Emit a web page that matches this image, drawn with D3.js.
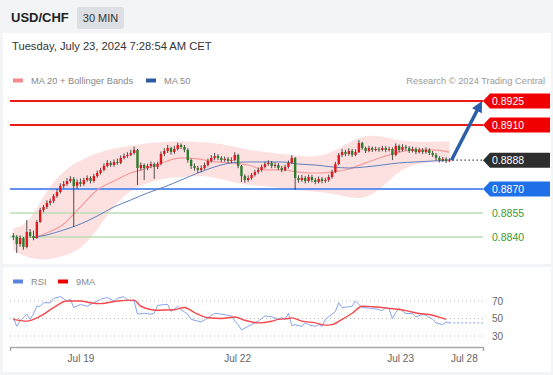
<!DOCTYPE html>
<meta charset="utf-8">
<style>
body { margin: 0; background: #fff; }
svg { display: block; font-family: "Liberation Sans", Arial, sans-serif; }
</style>
<svg width="553" height="375"></svg>
<script src="https://cdnjs.cloudflare.com/ajax/libs/d3/7.8.5/d3.min.js"></script>
<script>

var pair = "USD/CHF",
    period = "30 MIN",
    stamp = "Tuesday, July 23, 2024 7:28:54 AM CET",
    credit = "Research \u00a9 2024 Trading Central";

// 30 min candles, Jul 18 afternoon -> Jul 23 07:00
var opens = [0.88410,0.88400,0.88356,0.88394,0.88338,0.88431,0.88406,0.88394,0.88494,0.88569,
  0.88588,0.88613,0.88625,0.88656,0.88681,0.88719,0.88731,0.88750,0.88763,0.88719,
  0.88744,0.88731,0.88756,0.88769,0.88750,0.88781,0.88800,0.88819,0.88844,0.88863,
  0.88850,0.88869,0.88863,0.88894,0.88906,0.88913,0.88925,0.88944,0.88831,0.88850,
  0.88831,0.88844,0.88856,0.88838,0.88856,0.88919,0.88938,0.88956,0.88931,0.88950,
  0.88975,0.88963,0.88944,0.88881,0.88844,0.88831,0.88819,0.88831,0.88850,0.88875,
  0.88894,0.88906,0.88894,0.88881,0.88888,0.88875,0.88881,0.88913,0.88844,0.88781,
  0.88756,0.88769,0.88788,0.88806,0.88819,0.88838,0.88856,0.88863,0.88844,0.88850,
  0.88831,0.88819,0.88838,0.88863,0.88894,0.88769,0.88756,0.88769,0.88750,0.88775,
  0.88756,0.88744,0.88763,0.88750,0.88756,0.88775,0.88806,0.88856,0.88913,0.88931,
  0.88919,0.88938,0.88913,0.88931,0.88988,0.88956,0.88938,0.88956,0.88944,0.88950,
  0.88944,0.88956,0.88944,0.88950,0.88913,0.88969,0.88944,0.88963,0.88956,0.88938,
  0.88950,0.88931,0.88944,0.88931,0.88944,0.88925,0.88913,0.88894,0.88881,0.88888,
  0.88875];
var highs = [0.88425,0.88412,0.88410,0.88400,0.88506,0.88450,0.88440,0.88505,0.88582,0.88600,
  0.88630,0.88640,0.88670,0.88700,0.88735,0.88750,0.88768,0.88780,0.88775,0.88760,
  0.88765,0.88770,0.88785,0.88780,0.88795,0.88815,0.88832,0.88860,0.88880,0.88875,
  0.88885,0.88890,0.88910,0.88922,0.88930,0.88945,0.88965,0.88950,0.88866,0.88860,
  0.88858,0.88872,0.88866,0.88870,0.88935,0.88955,0.88975,0.88965,0.88970,0.88990,
  0.88985,0.88975,0.88955,0.88890,0.88860,0.88845,0.88848,0.88865,0.88890,0.88912,
  0.88925,0.88918,0.88905,0.88903,0.88900,0.88898,0.88930,0.88920,0.88850,0.88792,
  0.88785,0.88800,0.88820,0.88835,0.88852,0.88870,0.88880,0.88875,0.88866,0.88862,
  0.88845,0.88852,0.88878,0.88912,0.88900,0.88785,0.88788,0.88782,0.88790,0.88788,
  0.88770,0.88778,0.88775,0.88770,0.88790,0.88820,0.88870,0.88925,0.88950,0.88945,
  0.88955,0.88950,0.88948,0.89006,0.88995,0.88965,0.88970,0.88965,0.88965,0.88962,
  0.88970,0.88968,0.88965,0.88960,0.88985,0.88978,0.88980,0.88975,0.88968,0.88965,
  0.88960,0.88958,0.88955,0.88960,0.88955,0.88938,0.88925,0.88905,0.88900,0.88898,
  0.88892];
var lows = [0.88380,0.88300,0.88340,0.88320,0.88330,0.88395,0.88380,0.88388,0.88488,0.88555,
  0.88575,0.88598,0.88612,0.88645,0.88672,0.88705,0.88720,0.88738,0.88463,0.88700,
  0.88715,0.88720,0.88745,0.88735,0.88740,0.88770,0.88790,0.88810,0.88835,0.88838,
  0.88840,0.88850,0.88855,0.88885,0.88895,0.88905,0.88915,0.88725,0.88815,0.88756,
  0.88818,0.88830,0.88763,0.88825,0.88848,0.88905,0.88925,0.88915,0.88920,0.88940,
  0.88950,0.88930,0.88865,0.88825,0.88815,0.88800,0.88805,0.88820,0.88840,0.88865,
  0.88880,0.88880,0.88868,0.88870,0.88862,0.88862,0.88872,0.88830,0.88744,0.88740,
  0.88745,0.88758,0.88778,0.88795,0.88808,0.88828,0.88845,0.88830,0.88832,0.88818,
  0.88805,0.88810,0.88828,0.88855,0.88694,0.88740,0.88745,0.88735,0.88740,0.88742,
  0.88730,0.88735,0.88736,0.88738,0.88745,0.88765,0.88800,0.88848,0.88900,0.88905,
  0.88908,0.88900,0.88905,0.88925,0.88945,0.88925,0.88930,0.88932,0.88935,0.88932,
  0.88935,0.88930,0.88935,0.88881,0.88905,0.88930,0.88935,0.88940,0.88925,0.88928,
  0.88918,0.88922,0.88918,0.88920,0.88912,0.88900,0.88880,0.88866,0.88870,0.88862,
  0.88868];
var closes = [0.88400,0.88356,0.88394,0.88338,0.88431,0.88406,0.88394,0.88494,0.88569,0.88588,
  0.88613,0.88625,0.88656,0.88681,0.88719,0.88731,0.88750,0.88763,0.88719,0.88744,
  0.88731,0.88756,0.88769,0.88750,0.88781,0.88800,0.88819,0.88844,0.88863,0.88850,
  0.88869,0.88863,0.88894,0.88906,0.88913,0.88925,0.88944,0.88831,0.88850,0.88831,
  0.88844,0.88856,0.88838,0.88856,0.88919,0.88938,0.88956,0.88931,0.88950,0.88975,
  0.88963,0.88944,0.88881,0.88844,0.88831,0.88819,0.88831,0.88850,0.88875,0.88894,
  0.88906,0.88894,0.88881,0.88888,0.88875,0.88881,0.88913,0.88844,0.88781,0.88756,
  0.88769,0.88788,0.88806,0.88819,0.88838,0.88856,0.88863,0.88844,0.88850,0.88831,
  0.88819,0.88838,0.88863,0.88894,0.88769,0.88756,0.88769,0.88750,0.88775,0.88756,
  0.88744,0.88763,0.88750,0.88756,0.88775,0.88806,0.88856,0.88913,0.88931,0.88919,
  0.88938,0.88913,0.88931,0.88988,0.88956,0.88938,0.88956,0.88944,0.88950,0.88944,
  0.88956,0.88944,0.88950,0.88913,0.88969,0.88944,0.88963,0.88956,0.88938,0.88950,
  0.88931,0.88944,0.88931,0.88944,0.88925,0.88913,0.88894,0.88881,0.88888,0.88875,
  0.88880];

// moving averages, sampled at candle indices
var maIdx = [6,10,15,20,25,30,35,40,45,50,55,60,65,70,75,80,85,90,95,100,105,110,115,120,125,130];
var ma20 = [0.88394,0.88425,0.88481,0.88588,0.88694,0.88750,0.88800,0.88831,0.88869,0.88894,
  0.88888,0.88869,0.88863,0.88850,0.88819,0.88819,0.88806,0.88800,0.88806,0.88825,
  0.88863,0.88900,0.88931,0.88944,0.88944,0.88931];
var ma50 = [0.88397,0.88413,0.88444,0.88481,0.88531,0.88588,0.88631,0.88675,0.88713,0.88756,
  0.88800,0.88838,0.88863,0.88869,0.88869,0.88869,0.88856,0.88850,0.88838,0.88831,
  0.88838,0.88850,0.88863,0.88869,0.88875,0.88881];

// bollinger bands
var bandIdx = [0,3,6,10,15,20,25,30,35,40,45,50,55,60,65,70,75,80,85,90,95,100,105,110,115,120,125,130];
var bbUpper = [0.88456,0.88469,0.88538,0.88694,0.88819,0.88881,0.88925,0.88956,0.88969,0.88988,
  0.88994,0.89000,0.88994,0.88988,0.88969,0.88944,0.88931,0.88919,0.88906,0.88900,
  0.88925,0.88994,0.89038,0.89031,0.89000,0.88994,0.88994,0.89000];
var bbLower = [0.88319,0.88281,0.88263,0.88256,0.88281,0.88319,0.88444,0.88600,0.88694,0.88738,
  0.88769,0.88775,0.88781,0.88775,0.88744,0.88725,0.88719,0.88706,0.88694,0.88681,
  0.88675,0.88644,0.88638,0.88706,0.88819,0.88856,0.88869,0.88869];

// rsi + its 9 period average
var rsiIdx = [0,1,2,4,5,6,7,8,9,11,12,14,16,17,18,20,22,24,26,28,30,31,33,34,36,37,39,41,42,43,
  45,46,47,49,50,52,53,55,56,58,60,62,65,66,67,68,70,72,73,75,77,79,80,81,82,83,84,86,87,88,
  90,91,92,93,95,96,97,98,100,101,102,103,104,106,108,110,111,112,113,114,115,117,119,120,122,123,125,126,128,129,130];
var rsiVal = [51,41,47,55,49,55,64,64,68,68,73,75,70,72,62.5,66,64,68,72,74,70,73,75,71,70,55,56,55,56,65,
  66,66,58,64,60,55,49,47,46,51,56,55,53,47,43,37,41,45,47,53,52,49,51,49,56,42,43,41,45,43,
  41,43,41,49,55,58,68,62.5,63.5,64,70,66,62.5,62,61,59,62.5,61,50,57,61.6,55.7,55.7,52,54.6,53.6,49,45,43,46,45];
var rsiMaIdx = [0,4,8,12,16,20,23,26,31,36,38,43,48,51,54,58,62,66,69,73,77,79,82,83,86,90,93,95,98,101,104,107,112,117,121,124,129];
var rsiMaVal = [49,47,52.6,62.5,70,70,68,67,70,71,64,59.5,60,62.5,56.8,50.8,50,51.7,48,45,46.8,49,50,50.7,47,45,42.4,43,49,56,64,63.5,61.6,59,55.7,54.6,49];
var rsiTicks = [70, 50, 30];

// key levels
var levels = [0.8925, 0.8910, 0.8888, 0.8870, 0.8855, 0.8840];
var levelKind = ["res", "res", "last", "piv", "sup", "sup"];
var target = 0.8925;

// x axis labels at candle index positions
var dayLabels = ["Jul 19", "Jul 22", "Jul 23", "Jul 28"];
var dayIdx = [20, 66.7, 115.3, 134.3];

var svg = d3.select("svg"),
    width = +svg.attr("width"),
    height = +svg.attr("height");

var x = d3.scaleLinear().domain([-1, 140]).range([10, 483]);
var y = d3.scaleLinear().domain([0.8840, 0.8925]).range([237, 101]);
var yr = d3.scaleLinear().domain([30, 70]).range([336, 301]);

// frame
svg.append("rect").attr("width", width).attr("height", height).attr("fill", "#f3f4f6");
svg.append("rect").attr("x", 3).attr("y", 33).attr("width", 548).attr("height", 231).attr("fill", "#fff");
svg.append("rect").attr("x", 3).attr("y", 267).attr("width", 548).attr("height", 105).attr("fill", "#fff");

svg.append("text").attr("x", 11).attr("y", 22)
    .attr("font-size", 13).attr("font-weight", "bold").attr("fill", "#222").text(pair);
svg.append("rect").attr("x", 77).attr("y", 7).attr("width", 47).attr("height", 22)
    .attr("rx", 2).attr("fill", "#dcdfe4");
svg.append("text").attr("x", 100.5).attr("y", 21.5).attr("text-anchor", "middle")
    .attr("font-size", 11).attr("fill", "#333").text(period);
svg.append("text").attr("x", 12).attr("y", 49.5)
    .attr("font-size", 11.2).attr("fill", "#333").text(stamp);

// legend
var legend = [["MA 20 + Bollinger Bands", "#f48a8a", 13], ["MA 50", "#2c5da3", 146]];
legend.forEach(function(d) {
  svg.append("rect").attr("x", d[2]).attr("y", 78.5).attr("width", 10).attr("height", 4).attr("fill", d[1]);
  svg.append("text").attr("x", d[2] + 18).attr("y", 83.5)
      .attr("font-size", 9.3).attr("fill", "#888").text(d[0]);
});
svg.append("text").attr("x", 545).attr("y", 84).attr("text-anchor", "end")
    .attr("font-size", 9.3).attr("fill", "#9a9a9a").text(credit);

// bollinger band
var band = d3.area()
    .x(function(d, i) { return x(bandIdx[i]); })
    .y0(function(d, i) { return y(bbLower[i]); })
    .y1(function(d, i) { return y(bbUpper[i]); })
    .curve(d3.curveBasis);
svg.append("path").datum(bandIdx).attr("d", band).attr("fill", "#fde1e1");

// level lines
levels.forEach(function(v, i) {
  var k = levelKind[i];
  if (k == "last") return;
  svg.append("line")
      .attr("x1", 10).attr("x2", 483).attr("y1", y(v)).attr("y2", y(v))
      .attr("stroke", k == "res" ? "#ee1b1b" : k == "piv" ? "#6393ee" : "#bcdcb5")
      .attr("stroke-width", k == "sup" ? 1.5 : 2);
});

// moving averages
var maLine = function(vals) {
  return d3.line()
      .x(function(d, i) { return x(maIdx[i]); })
      .y(function(d) { return y(d); })
      .curve(d3.curveMonotoneX)(vals);
};
svg.append("path").attr("d", maLine(ma20)).attr("fill", "none")
    .attr("stroke", "#f59c9c").attr("stroke-width", 1.2);
svg.append("path").attr("d", maLine(ma50)).attr("fill", "none")
    .attr("stroke", "#5d7fbf").attr("stroke-width", 1);

// candles
var candles = closes.map(function(c, i) {
  return {i: i, o: opens[i], h: highs[i], l: lows[i], c: c};
});
var cg = svg.append("g");
cg.selectAll("line").data(candles).enter().append("line")
    .attr("x1", function(d) { return x(d.i); })
    .attr("x2", function(d) { return x(d.i); })
    .attr("y1", function(d) { return y(d.h); })
    .attr("y2", function(d) { return y(d.l); })
    .attr("stroke", "#3a3a3a").attr("stroke-width", 0.9);
cg.selectAll("rect").data(candles).enter().append("rect")
    .attr("x", function(d) { return x(d.i) - 1.2; })
    .attr("width", 2.4)
    .attr("y", function(d) { return y(Math.max(d.o, d.c)); })
    .attr("height", function(d) { return Math.max(1, Math.abs(y(d.o) - y(d.c))); })
    .attr("fill", function(d) { return d.c >= d.o ? "#e0191e" : "#2c7d2c"; });

// last price dotted + arrow to target
var last = closes.length - 1;
svg.append("line")
    .attr("x1", x(last) + 3).attr("x2", 483)
    .attr("y1", y(levels[2])).attr("y2", y(levels[2]))
    .attr("stroke", "#3b4a66").attr("stroke-width", 1.3).attr("stroke-dasharray", "1.5,2.5");

var ax0 = x(last) + 2, ay0 = y(closes[last]),
    ax1 = x(140) - 1, ay1 = y(target);
var ang = Math.atan2(ay1 - ay0, ax1 - ax0), hl = 11, hw = 5.5;
var bx = ax1 - hl * Math.cos(ang), by = ay1 - hl * Math.sin(ang);
svg.append("line").attr("x1", ax0).attr("y1", ay0).attr("x2", bx + 2 * Math.cos(ang)).attr("y2", by + 2 * Math.sin(ang))
    .attr("stroke", "#2d5ea8").attr("stroke-width", 3.5);
svg.append("path")
    .attr("d", "M" + ax1 + "," + ay1 +
      "L" + (bx - hw * Math.sin(ang)) + "," + (by + hw * Math.cos(ang)) +
      "L" + (bx + hw * Math.sin(ang)) + "," + (by - hw * Math.cos(ang)) + "Z")
    .attr("fill", "#2d5ea8");

// level tags
levels.forEach(function(v, i) {
  var k = levelKind[i], yy = y(v);
  if (k != "sup") {
    svg.append("path")
        .attr("d", "M483," + yy + "L490," + (yy - 7.5) + "L550," + (yy - 7.5) +
          "L550," + (yy + 7.5) + "L490," + (yy + 7.5) + "Z")
        .attr("fill", k == "res" ? "#f00000" : k == "last" ? "#2e2e2e" : "#1f6fe8");
  }
  svg.append("text").attr("x", 492).attr("y", yy + 3.6)
      .attr("font-size", 10.5)
      .attr("fill", k == "sup" ? "#3b9a33" : "#fff")
      .text(d3.format(".4f")(v));
});

// rsi panel
rsiTicks.forEach(function(t) {
  svg.append("line").attr("x1", 10).attr("x2", 483).attr("y1", yr(t)).attr("y2", yr(t))
      .attr("stroke", "#bbb").attr("stroke-dasharray", "1,3");
});
svg.append("g").attr("transform", "translate(483,0)")
    .call(d3.axisRight(yr).tickValues(rsiTicks).tickSize(0).tickPadding(9))
    .call(function(g) {
      g.select(".domain").remove();
      g.selectAll("text").attr("font-size", 10).attr("fill", "#666").attr("font-family", null);
    });

var rsiLine = d3.line()
    .x(function(d, i) { return x(rsiIdx[i]); })
    .y(function(d) { return yr(d); });
svg.append("path").attr("d", rsiLine(rsiVal)).attr("fill", "none")
    .attr("stroke", "#86a5ee").attr("stroke-width", 1);
svg.append("line")
    .attr("x1", x(rsiIdx[rsiIdx.length - 1])).attr("x2", 483)
    .attr("y1", yr(rsiVal[rsiVal.length - 1])).attr("y2", yr(rsiVal[rsiVal.length - 1]))
    .attr("stroke", "#86a5ee").attr("stroke-width", 1.2).attr("stroke-dasharray", "1.5,2.5");

var rsiMaLine = d3.line()
    .x(function(d, i) { return x(rsiMaIdx[i]); })
    .y(function(d) { return yr(d); })
    .curve(d3.curveMonotoneX);
svg.append("path").attr("d", rsiMaLine(rsiMaVal)).attr("fill", "none")
    .attr("stroke", "#f5484d").attr("stroke-width", 1.4);

var rsiLegend = [["RSI", "#5b85e0", 13], ["9MA", "#f00000", 58]];
rsiLegend.forEach(function(d) {
  svg.append("rect").attr("x", d[2]).attr("y", 279.5).attr("width", 10).attr("height", 4).attr("fill", d[1]);
  svg.append("text").attr("x", d[2] + 18).attr("y", 284.5)
      .attr("font-size", 9.3).attr("fill", "#888").text(d[0]);
});

// time axis
svg.append("g").attr("transform", "translate(0,347)")
    .call(d3.axisBottom(x).tickValues(dayIdx)
      .tickFormat(function(d, i) { return dayLabels[i]; })
      .tickSizeInner(0).tickSizeOuter(4).tickPadding(8))
    .call(function(g) {
      g.select(".domain").attr("stroke", "#aaa").attr("stroke-width", 1.5);
      g.selectAll("text").attr("font-size", 10).attr("fill", "#666").attr("font-family", null);
    });

</script>
